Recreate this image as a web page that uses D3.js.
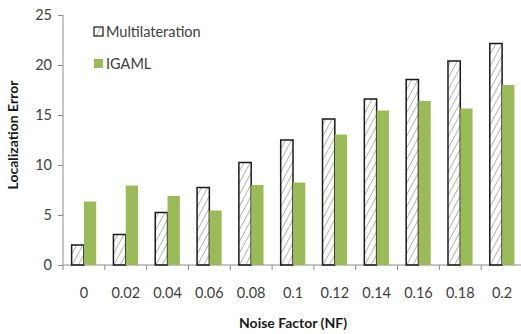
<!DOCTYPE html>
<html>
<head>
<meta charset="utf-8">
<script src="https://cdn.jsdelivr.net/npm/d3@7"></script>
<style>
  body { margin: 0; background: #fff; }
  svg { display: block; font-family: Lato, "Open Sans", sans-serif; }
</style>
</head>
<body>
<svg id="chart" width="521" height="334"></svg>
<script>
var categories = ['0', '0.02', '0.04', '0.06', '0.08', '0.1', '0.12', '0.14', '0.16', '0.18', '0.2'];
var seriesNames = ['Multilateration', 'IGAML'];
var multilateration = [2.0, 3.05, 5.25, 7.75, 10.25, 12.5, 14.6, 16.6, 18.55, 20.4, 22.15];
var igaml = [6.35, 7.95, 6.9, 5.45, 8.0, 8.25, 13.05, 15.45, 16.4, 15.65, 18.0];
var yTicks = [0, 5, 10, 15, 20, 25];

var svg = d3.select('#chart');
var axisColor = '#8c8c8c';
var green = '#9bbb59';

// hatch pattern for the outlined series
var defs = svg.append('defs');
defs.append('pattern')
    .attr('id', 'hatch')
    .attr('patternUnits', 'userSpaceOnUse')
    .attr('width', 5.5)
    .attr('height', 6)
    .attr('patternTransform', 'rotate(28)')
  .append('line')
    .attr('x1', 0).attr('y1', 0)
    .attr('x2', 0).attr('y2', 6)
    .attr('stroke', '#6f6f6f')
    .attr('stroke-width', 1);

var x0 = d3.scaleBand().domain(categories).range([63, 523]).padding(0);
var x1 = d3.scaleBand().domain(seriesNames).range([0, x0.bandwidth()]).paddingInner(0).paddingOuter(0.7);
var y = d3.scaleLinear().domain([0, 25]).range([265, 15]);

var rows = categories.map(function (c, i) {
    return { cat: c, values: [multilateration[i], igaml[i]] };
});

// y axis
var yAxis = svg.append('g').attr('transform', 'translate(63,0)')
    .call(d3.axisLeft(y).tickValues(yTicks).tickSize(5).tickPadding(6));
yAxis.select('.domain').attr('stroke', axisColor).attr('d', 'M0,' + y(25) + 'V' + y(0));
yAxis.selectAll('.tick line').attr('stroke', axisColor);
yAxis.selectAll('.tick text').attr('fill', '#404040').style('font-size', '14.5px').style('font-family', 'Lato, sans-serif');

// x axis
var xAxis = svg.append('g').attr('transform', 'translate(0,265)');
xAxis.append('line').attr('x1', 63).attr('x2', 523).attr('y1', 0).attr('y2', 0).attr('stroke', axisColor);
var boundaries = categories.map(function (c) { return x0(c); }).concat([x0.range()[1]]);
xAxis.selectAll('.xt').data(boundaries).enter().append('line')
    .attr('x1', function (d) { return d; }).attr('x2', function (d) { return d; })
    .attr('y1', 0).attr('y2', 5).attr('stroke', axisColor);
xAxis.selectAll('.xl').data(categories).enter().append('text')
    .attr('x', function (d) { return x0(d) + x0.bandwidth() / 2; })
    .attr('y', 33)
    .attr('text-anchor', 'middle')
    .attr('fill', '#404040')
    .style('font-size', '14.5px')
    .text(function (d) { return d; });

// bars
var groups = svg.selectAll('.grp').data(rows).enter().append('g')
    .attr('transform', function (d) { return 'translate(' + x0(d.cat) + ',0)'; });
groups.selectAll('rect').data(function (d) {
    return d.values.map(function (v, i) { return { s: seriesNames[i], v: v }; });
}).enter().append('rect')
    .attr('x', function (d) { return x1(d.s); })
    .attr('width', x1.bandwidth())
    .attr('y', function (d) { return y(d.v); })
    .attr('height', function (d) { return y(0) - y(d.v); })
    .attr('fill', function (d) { return d.s === 'IGAML' ? green : 'url(#hatch)'; })
    .attr('stroke', function (d) { return d.s === 'IGAML' ? 'none' : '#1a1a1a'; })
    .attr('stroke-width', 1.5);

// legend
var legend = svg.append('g');
var leg = legend.selectAll('g').data(seriesNames).enter().append('g')
    .attr('transform', function (d, i) { return 'translate(94,' + (27 + i * 32) + ')'; });
leg.append('rect')
    .attr('width', 9).attr('height', 9)
    .attr('fill', function (d) { return d === 'IGAML' ? green : 'url(#hatch)'; })
    .attr('stroke', function (d) { return d === 'IGAML' ? 'none' : '#1a1a1a'; })
    .attr('stroke-width', 1.2);
leg.append('text')
    .attr('x', 12).attr('y', 10)
    .attr('fill', '#404040')
    .style('font-size', '14.5px')
    .text(function (d) { return d; });

// axis titles
svg.append('text')
    .attr('x', 293).attr('y', 328)
    .attr('text-anchor', 'middle')
    .style('font-size', '14px').style('font-weight', 'bold')
    .attr('fill', '#1a1a1a')
    .text('Noise Factor (NF)');
svg.append('text')
    .attr('transform', 'translate(18,135) rotate(-90)')
    .attr('text-anchor', 'middle')
    .style('font-size', '14px').style('font-weight', 'bold')
    .attr('fill', '#1a1a1a')
    .text('Localization Error');
</script>
</body>
</html>
